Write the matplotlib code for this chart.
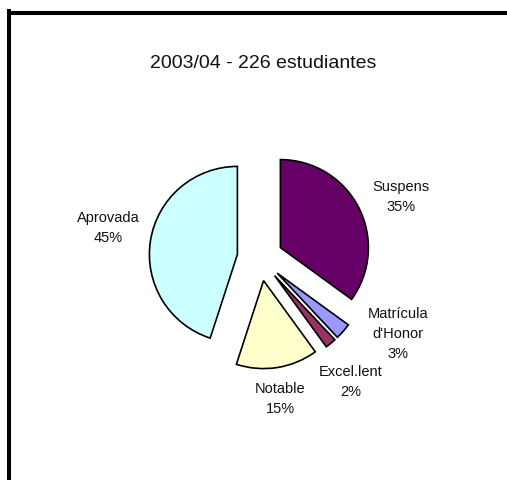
import matplotlib
matplotlib.use("Agg")
import matplotlib.pyplot as plt
from matplotlib.lines import Line2D

plt.rcParams['font.family'] = ['Liberation Sans', 'DejaVu Sans']

title = "2003/04 - 226 estudiantes"
categories = ["Suspens", "Matrícula\nd'Honor", "Excel.lent", "Notable", "Aprovada"]
percentages = [35, 3, 2, 15, 45]
colors = ["#660066", "#9999FF", "#993366", "#FFFFCC", "#CCFFFF"]

W, H = 507, 480
fig = plt.figure(figsize=(W / 100, H / 100), dpi=100)
ax = fig.add_axes([0, 0, 1, 1])

# pie centre and radius in pixels
cx, cy, r = 260, 258, 88

ax.pie(percentages, colors=colors, startangle=90, counterclock=False,
       explode=[0.26] * len(percentages), radius=1.0,
       wedgeprops=dict(edgecolor="black", linewidth=1.2), frame=True)
ax.set_xlim(-cx / r, (W - cx) / r)
ax.set_ylim(-(H - cy) / r, cy / r)
ax.set_aspect("auto")
ax.set_axis_off()

# label anchors (pixel centres)
label_pos = [(401, 197), (398, 334), (351, 382), (280, 399), (108, 228)]
for name, pct, (px, py) in zip(categories, percentages, label_pos):
    fig.text(px / W, 1 - py / H, f"{name}\n{pct}%", ha="center", va="center",
             fontsize=10.5, linespacing=1.55, color="#111111")

fig.text(263 / W, 1 - 63 / H, title, ha="center", va="center", fontsize=14,
         color="#111111")

# chart-area border (left and top edges visible)
lw = 2.9
fig.add_artist(Line2D([9 / W, 9 / W], [0, 1 - 11 / H], color="black", lw=lw,
                      transform=fig.transFigure, solid_capstyle="projecting"))
fig.add_artist(Line2D([9 / W, 1], [1 - 13 / H, 1 - 13 / H], color="black", lw=lw,
                      transform=fig.transFigure, solid_capstyle="projecting"))

fig.savefig("out.png", dpi=100)
